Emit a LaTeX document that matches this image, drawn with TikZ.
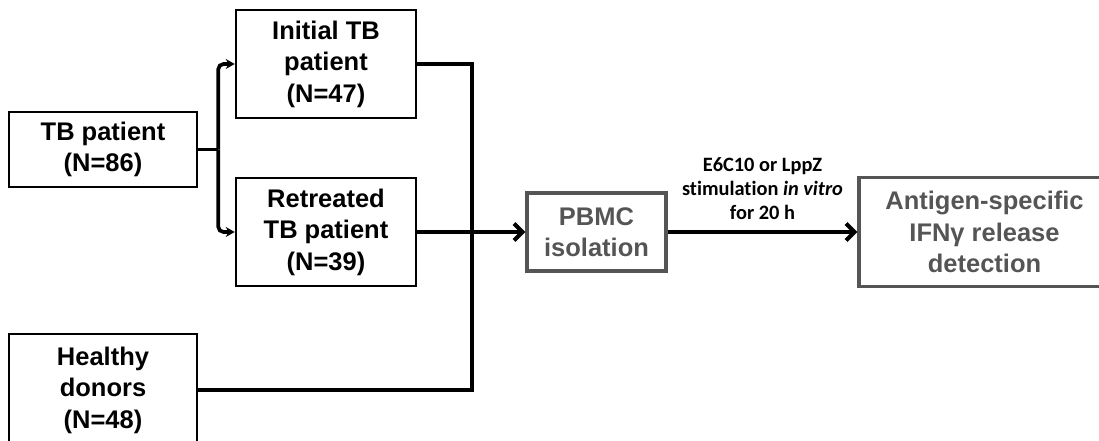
\documentclass[tikz,border=0pt]{standalone}
\usepackage{fontspec}
\setmainfont{Liberation Sans}
\newfontfamily\notefont[Ligatures=NoCommon]{Carlito}
\usepackage{tikz}
\usetikzlibrary{%
  calc,
  positioning,
  arrows,
  arrows.meta,
}

\definecolor{stagegray}{HTML}{555555}

\tikzset{
  group/.style = {draw, line width=1.45pt, align=center, inner sep=0pt,
    font=\fontsize{14.5}{17.9}\selectfont\bfseries},
  stage/.style = {group, draw=stagegray, text=stagegray, line width=1.8pt},
  note/.style = {align=center, inner sep=0pt,
    font=\notefont\fontsize{11.6}{13.6}\selectfont\bfseries},
  link/.style = {line width=2.1pt},
  branch/.style = {link, -{Stealth[length=1.8mm, width=2mm]}, rounded corners=3pt},
  flow/.style = {line width=2.3pt, -{Straight Barb[length=1.7mm, width=3.4mm]}},
}

\begin{document}
\begin{tikzpicture}[x=0.2mm, y=-0.2mm]
  \useasboundingbox (0,0) rectangle (1099,441);
  % 1 unit = 1 px of the 1099 x 441 frame

  \node[group, minimum width=3.76cm, minimum height=1.5cm]
    (tb) at (103,149.5) {TB patient\\(N=86)};
  \node[group, minimum width=3.6cm, minimum height=2.16cm]
    (init) at (326,64) {Initial TB\\patient\\(N=47)};
  \node[group, minimum width=3.6cm, minimum height=2.16cm]
    (retr) at (326,232) {Retreated\\TB patient\\(N=39)};
  \node[group, minimum width=3.76cm, minimum height=2.24cm]
    (healthy) at (103,390) {Healthy\\donors\\(N=48)};

  \node[stage, minimum width=2.78cm, minimum height=1.56cm]
    (pbmc) at (596.5,232) {PBMC\\isolation};
  \node[stage, minimum width=5.02cm, minimum height=2.18cm]
    (ifn) at (984.5,232) {Antigen-specific\\IFNγ release\\detection};

  \coordinate (split) at ($(tb.east)+(20,0)$);
  \coordinate (join) at (472,232);

  \draw[link] (tb.east) -- (split);
  \draw[branch] (split) |- (init.west);
  \draw[branch] (split) |- (retr.west);

  \draw[link] (init.east) -| (join);
  \draw[link] (healthy.east) -| (join);
  \draw[link] (retr.east) -- (join);

  \draw[flow] (join) -- (pbmc.west);
  \draw[flow] (pbmc.east) -- node[note, above=6pt]
    {E6C10 or LppZ\\stimulation \textit{in vitro}\\for 20 h} (ifn.west);
\end{tikzpicture}
\end{document}
